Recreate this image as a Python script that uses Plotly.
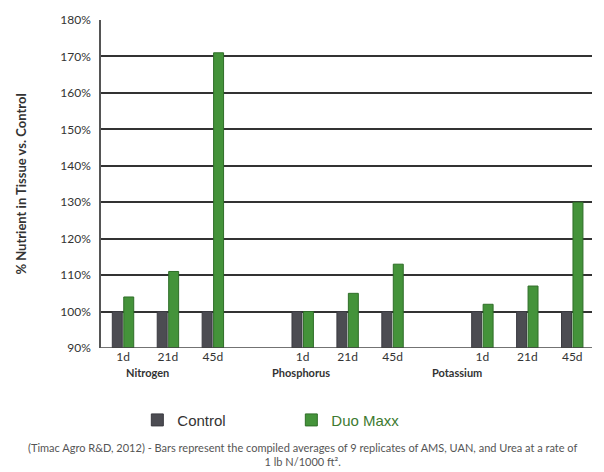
import plotly.graph_objects as go

nutrients = ["Nitrogen", "Phosphorus", "Potassium"]
days = ["1d", "21d", "45d"]
control = [100, 100, 100, 100, 100, 100, 100, 100, 100]
duo_maxx = [104, 111, 171, 100, 105, 113, 102, 107, 130]
y_ticks = [90, 100, 110, 120, 130, 140, 150, 160, 170, 180]
y_ticktext = [f"{v}%" for v in y_ticks]

xpos = [0, 1, 2, 4, 5, 6, 8, 9, 10]
xlabels = days * 3

FONT = "Lato"
fig = go.Figure()
fig.add_trace(go.Bar(x=xpos, y=[v - 90 for v in control], base=90, name="Control",
                     marker=dict(color="#4c4c52", line=dict(color="#3a3a40", width=1))))
fig.add_trace(go.Bar(x=xpos, y=[v - 90 for v in duo_maxx], base=90,
                     name='<span style="color:#3d7a30">Duo Maxx</span>',
                     marker=dict(color="#44933a", line=dict(color="#2f6e28", width=1))))

fig.update_layout(
    width=604, height=472,
    margin=dict(l=101, r=12, t=12, b=124),
    plot_bgcolor="white", paper_bgcolor="white",
    barmode="group", bargap=0.49, bargroupgap=0.13,
    font=dict(family=FONT, color="#333333"),
    showlegend=True,
    legend=dict(orientation="h", x=0.074, xanchor="left", y=-0.22, yanchor="middle",
                font=dict(size=15, family="Liberation Sans", color="#333333"),
                entrywidth=109, itemwidth=30, bgcolor="rgba(0,0,0,0)"),
    xaxis=dict(range=[-0.49, 10.44], tickmode="array", tickvals=xpos, ticktext=xlabels,
               showgrid=False, zeroline=False, showline=False,
               tickfont=dict(size=12, family=FONT, color="#333333"), ticks=""),
    yaxis=dict(range=[90, 180], tickmode="array", tickvals=y_ticks, ticktext=y_ticktext,
               showgrid=True, gridcolor="#333333", gridwidth=1.5,
               showline=True, linecolor="#555555", linewidth=1.5, zeroline=False,
               ticklabelstandoff=6,
               tickfont=dict(size=12, family=FONT, color="#333333"), ticks="",
               title=dict(text="<b>% Nutrient in Tissue vs. Control</b>",
                          font=dict(size=13, family=FONT, color="#333333"), standoff=31)),
)
fig.update_yaxes(tickprefix="<b>", ticksuffix="</b>")

cat_x = [0.55, 3.97, 7.44]
for name, cx in zip(nutrients, cat_x):
    fig.add_annotation(x=cx, xref="x", y=-0.1, yref="paper", text=f"<b>{name}</b>",
                       showarrow=False, font=dict(size=11, family=FONT, color="#333333"))

fig.add_shape(type="line", xref="paper", yref="y", x0=0, x1=1, y0=90, y1=90,
              line=dict(color="#444444", width=1.5))

fig.add_annotation(x=0.41, xref="paper", xanchor="center", y=-0.325, yref="paper",
                   yanchor="middle",
                   text="(Timac Agro R&D, 2012) - Bars represent the compiled averages of 9 replicates of AMS, UAN, and Urea at a rate of<br>1 lb N/1000 ft².",
                   showarrow=False, font=dict(size=11, family=FONT, color="#555555"))

fig.write_html("out.html")
